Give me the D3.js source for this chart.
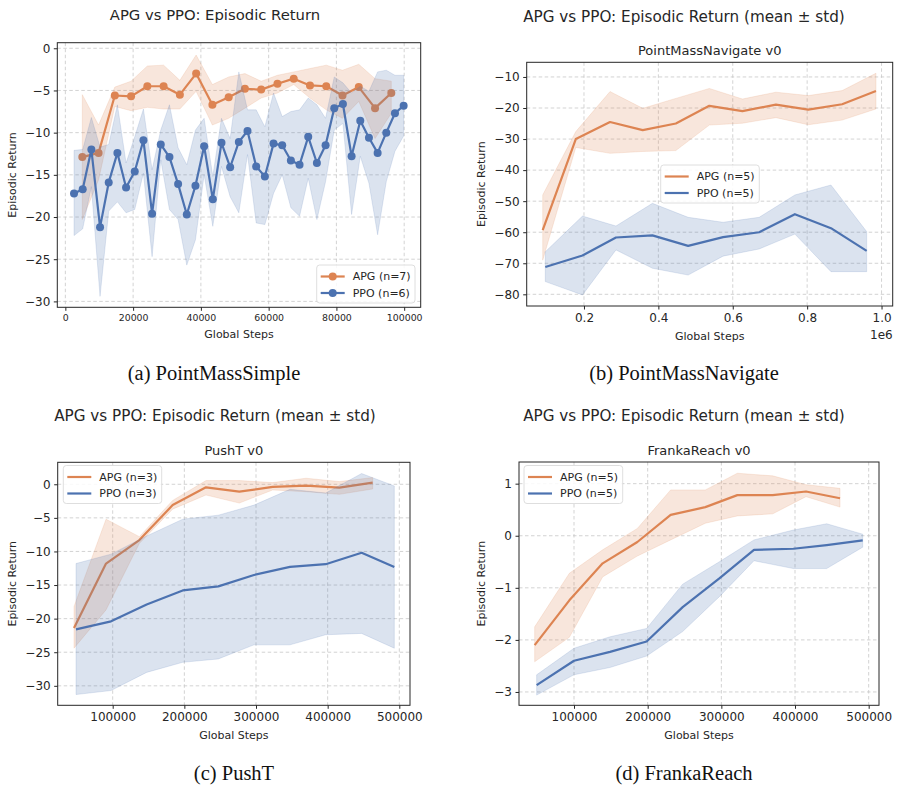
<!DOCTYPE html>
<html>
<head>
<meta charset="utf-8">
<script src="https://cdn.jsdelivr.net/npm/d3@7"></script>
<style>
  body { margin: 0; background: #fff; }
  svg { display: block; }
  text { font-family: "DejaVu Sans", sans-serif; fill: #262626; }
  .caption { font-family: "Liberation Serif", serif; fill: #111; }
</style>
</head>
<body>
<svg id="fig" width="900" height="791"></svg>
<script>
'use strict';

// ---- (a) PointMassSimple ----
var simpleApgX    = [5000, 9800, 14600, 19400, 24200, 29000, 33800, 38600, 43400, 48200, 53000, 57800, 62600, 67400, 72200, 77000, 81800, 86600, 91400, 96200];
var simpleApgMean = [-12.9, -12.4, -5.6, -5.7, -4.5, -4.5, -5.5, -3.0, -6.7, -5.8, -4.8, -4.9, -4.2, -3.6, -4.4, -4.5, -5.6, -4.6, -7.1, -5.3];
var simpleApgHi   = [-5.5, -9.1, -4.6, -3.9, -2.1, -2.0, -3.8, -0.8, -4.3, -3.4, -3.0, -3.9, -3.2, -2.8, -2.4, -2.0, -2.6, -1.9, -3.6, -3.9];
var simpleApgLo   = [-20.3, -15.6, -6.9, -7.4, -7.0, -7.2, -7.2, -5.1, -9.1, -8.3, -7.1, -5.9, -5.3, -4.3, -5.9, -7.3, -8.3, -6.3, -10.7, -7.7];

var simplePpoX    = [2560, 5120, 7680, 10240, 12800, 15360, 17920, 20480, 23040, 25600, 28160, 30720, 33280, 35840, 38400, 40960, 43520, 46080, 48640, 51200,
                     53760, 56320, 58880, 61440, 64000, 66560, 69120, 71680, 74240, 76800, 79360, 81920, 84480, 87040, 89600, 92160, 94720, 97280, 99840];
var simplePpoMean = [-17.2, -16.7, -12.0, -21.2, -15.9, -12.4, -16.5, -14.6, -10.9, -19.6, -11.4, -12.9, -16.1, -19.7, -16.3, -11.6, -17.9, -11.2, -14.1, -11.1,
                     -9.8, -14.0, -15.2, -11.3, -11.5, -13.3, -13.8, -10.5, -13.6, -11.5, -7.1, -6.6, -12.8, -8.6, -10.6, -12.4, -10.0, -7.7, -6.8];
var simplePpoHi   = [-12.1, -12.0, -8.2, -11.7, -11.4, -6.7, -13.6, -10.5, -7.2, -14.4, -9.7, -6.7, -11.8, -13.8, -9.7, -8.3, -15.2, -8.3, -10.7, -2.8,
                     -7.3, -7.3, -9.3, -5.3, -8.1, -7.5, -7.3, -5.9, -6.7, -8.3, -3.4, -4.1, -5.3, -4.5, -5.1, -2.8, -2.6, -3.2, -3.2];
var simplePpoLo   = [-22.2, -21.4, -16.4, -29.4, -19.3, -18.2, -19.5, -19.1, -14.8, -24.7, -13.2, -19.1, -20.3, -25.7, -22.7, -15.0, -21.1, -14.0, -17.6, -19.5,
                     -12.6, -20.7, -20.9, -17.2, -15.0, -18.9, -19.9, -15.4, -20.3, -15.8, -9.7, -8.9, -19.7, -12.8, -16.0, -22.1, -15.8, -12.2, -10.4];

// ---- (b) PointMassNavigate (x in units of 1e6) ----
var navApgX    = [0.089, 0.178, 0.270, 0.358, 0.447, 0.537, 0.626, 0.716, 0.803, 0.894, 0.985];
var navApgMean = [-59.3, -30.0, -24.5, -27.1, -25.0, -19.3, -21.0, -18.9, -20.5, -18.8, -14.5];
var navApgHi   = [-48.0, -27.6, -14.7, -20.1, -16.9, -13.7, -17.1, -14.9, -16.0, -14.4, -8.8];
var navApgLo   = [-69.0, -32.7, -34.6, -34.0, -33.7, -25.5, -24.9, -23.1, -25.4, -23.9, -20.3];

var navPpoX    = [0.096, 0.196, 0.286, 0.384, 0.480, 0.574, 0.671, 0.767, 0.864, 0.960];
var navPpoMean = [-71.2, -67.5, -61.7, -61.0, -64.4, -61.6, -60.0, -54.2, -58.7, -66.0];
var navPpoHi   = [-66.3, -54.8, -58.0, -50.7, -55.2, -56.8, -55.2, -48.0, -44.8, -59.8];
var navPpoLo   = [-75.9, -80.2, -65.7, -71.6, -73.8, -67.7, -65.4, -60.6, -72.7, -72.7];

// ---- (c) PushT ----
var pushApgX    = [46000, 90700, 137200, 183700, 230200, 276700, 323300, 369800, 416300, 462800];
var pushApgMean = [-21.4, -11.8, -8.3, -3.1, -0.45, -1.1, -0.4, -0.2, -0.5, 0.25];
var pushApgHi   = [-18.2, -5.2, -7.8, -2.4, 0.55, 0.55, 0.25, 0.9, 0.4, 1.0];
var pushApgLo   = [-24.4, -18.7, -8.8, -3.7, -1.6, -2.8, -0.85, -1.1, -1.5, -0.7];

var pushPpoX    = [48800, 97700, 147400, 197700, 247400, 297200, 347400, 397200, 447400, 493000];
var pushPpoMean = [-21.6, -20.4, -17.9, -15.8, -15.2, -13.5, -12.3, -11.9, -10.2, -12.3];
var pushPpoHi   = [-11.8, -10.4, -7.7, -5.2, -4.6, -3.1, -0.75, -1.3, 1.6, -0.25];
var pushPpoLo   = [-31.3, -30.7, -28.0, -26.5, -26.0, -23.9, -23.9, -22.4, -22.2, -24.4];

// ---- (d) FrankaReach ----
var frankaApgX    = [46600, 93700, 138900, 186000, 231200, 278300, 321700, 369700, 414900, 461100];
var frankaApgMean = [-2.10, -1.24, -0.53, -0.12, 0.40, 0.55, 0.78, 0.78, 0.85, 0.72];
var frankaApgHi   = [-1.75, -0.72, -0.27, 0.14, 0.88, 0.88, 1.20, 1.15, 0.98, 0.91];
var frankaApgLo   = [-2.42, -1.95, -0.79, -0.39, -0.08, 0.24, 0.38, 0.42, 0.75, 0.55];

var frankaPpoX    = [49300, 100000, 148900, 198600, 247500, 297300, 344300, 397700, 443000, 491900];
var frankaPpoMean = [-2.87, -2.40, -2.23, -2.03, -1.37, -0.82, -0.27, -0.25, -0.18, -0.09];
var frankaPpoHi   = [-2.67, -2.16, -1.94, -1.78, -0.93, -0.50, -0.08, 0.11, 0.23, 0.03];
var frankaPpoLo   = [-3.06, -2.67, -2.53, -2.31, -1.84, -1.17, -0.48, -0.63, -0.63, -0.22];

// tick values
var simpleXTicks = [0, 20000, 40000, 60000, 80000, 100000];
var simpleYTicks = [-30, -25, -20, -15, -10, -5, 0];
var navXTicks    = [0.2, 0.4, 0.6, 0.8, 1.0];
var navYTicks    = [-80, -70, -60, -50, -40, -30, -20, -10];
var pushXTicks   = [100000, 200000, 300000, 400000, 500000];
var pushYTicks   = [-30, -25, -20, -15, -10, -5, 0];
var frankaXTicks = [100000, 200000, 300000, 400000, 500000];
var frankaYTicks = [-3, -2, -1, 0, 1];

var APG_COLOR = "#dd8452";
var PPO_COLOR = "#4c72b0";

function zip(x, m, lo, hi) {
    return x.map((v, i) => ({x: v, m: m[i], lo: lo[i], hi: hi[i]}));
}

var svg = d3.select("#fig");

function drawPanel(p) {
    var b = p.box;
    var x = d3.scaleLinear().domain(p.xDomain).range([b.left, b.right]);
    var y = d3.scaleLinear().domain(p.yDomain).range([b.bottom, b.top]);
    var g = svg.append("g");

    // grid
    g.append("g").selectAll("line").data(p.xTicks).enter().append("line")
        .attr("x1", d => x(d)).attr("x2", d => x(d))
        .attr("y1", b.top).attr("y2", b.bottom)
        .attr("stroke", "#c8c8c8").attr("stroke-width", 0.8).attr("stroke-dasharray", "3.5,2.5");
    g.append("g").selectAll("line").data(p.yTicks).enter().append("line")
        .attr("y1", d => y(d)).attr("y2", d => y(d))
        .attr("x1", b.left).attr("x2", b.right)
        .attr("stroke", "#c8c8c8").attr("stroke-width", 0.8).attr("stroke-dasharray", "3.5,2.5");

    var area = d3.area().x(d => x(d.x)).y0(d => y(d.lo)).y1(d => y(d.hi));
    var line = d3.line().x(d => x(d.x)).y(d => y(d.m));

    p.series.forEach(s => {
        g.append("path").datum(s.data)
            .attr("d", area)
            .attr("fill", s.color).attr("fill-opacity", 0.2)
            .attr("stroke", s.color).attr("stroke-opacity", 0.2).attr("stroke-width", 0.8);
        g.append("path").datum(s.data)
            .attr("d", line)
            .attr("fill", "none").attr("stroke", s.color).attr("stroke-width", 2.2)
            .attr("stroke-linejoin", "round");
        if (p.markers) {
            g.append("g").selectAll("circle").data(s.data).enter().append("circle")
                .attr("cx", d => x(d.x)).attr("cy", d => y(d.m)).attr("r", 4)
                .attr("fill", s.color);
        }
    });

    // frame
    g.append("rect")
        .attr("x", b.left).attr("y", b.top)
        .attr("width", b.right - b.left).attr("height", b.bottom - b.top)
        .attr("fill", "none").attr("stroke", "#262626").attr("stroke-width", 1);

    // axes
    var xAxis = g.append("g").attr("transform", "translate(0," + b.bottom + ")")
        .call(d3.axisBottom(x).tickValues(p.xTicks).tickFormat(p.xFormat).tickSize(3.5).tickPadding(3.5).tickSizeOuter(0));
    xAxis.select(".domain").remove();
    xAxis.selectAll("line").attr("stroke", "#262626");
    xAxis.selectAll("text").attr("font-size", p.xTickSize).attr("font-family", "DejaVu Sans").attr("fill", "#262626");

    var yAxis = g.append("g").attr("transform", "translate(" + b.left + ",0)")
        .call(d3.axisLeft(y).tickValues(p.yTicks).tickFormat(p.yFormat).tickSize(3.5).tickPadding(3.5).tickSizeOuter(0));
    yAxis.select(".domain").remove();
    yAxis.selectAll("line").attr("stroke", "#262626");
    yAxis.selectAll("text").attr("font-size", p.yTickSize).attr("font-family", "DejaVu Sans").attr("fill", "#262626");

    // labels
    g.append("text").attr("x", (b.left + b.right) / 2).attr("y", p.xLabelY)
        .attr("text-anchor", "middle").attr("font-size", 11).text("Global Steps");
    g.append("text").attr("transform", "translate(" + p.yLabelX + "," + ((b.top + b.bottom) / 2) + ") rotate(-90)")
        .attr("text-anchor", "middle").attr("dy", "0.35em").attr("font-size", 11).text("Episodic Return");

    if (p.offsetText) {
        g.append("text").attr("x", b.right).attr("y", p.offsetText.y)
            .attr("text-anchor", "end").attr("font-size", 12).text(p.offsetText.text);
    }

    // titles
    g.append("text").attr("x", p.suptitle.x).attr("y", p.suptitle.y)
        .attr("text-anchor", "middle").attr("font-size", p.suptitle.size).text(p.suptitle.text);
    if (p.subtitle) {
        g.append("text").attr("x", (b.left + b.right) / 2).attr("y", p.subtitle.y)
            .attr("text-anchor", "middle").attr("font-size", 13).text(p.subtitle.text);
    }

    // legend
    var L = p.legend;
    var lg = g.append("g").attr("transform", "translate(" + L.x + "," + L.y + ")");
    lg.append("rect").attr("width", L.w).attr("height", 38).attr("rx", 3)
        .attr("fill", "#fff").attr("fill-opacity", 0.85).attr("stroke", "#d6d6d6").attr("stroke-width", 0.8);
    p.series.forEach((s, i) => {
        var ly = 11.5 + i * 16.5;
        lg.append("line").attr("x1", 4).attr("x2", 28).attr("y1", ly).attr("y2", ly)
            .attr("stroke", s.color).attr("stroke-width", 2.2);
        if (p.markers) {
            lg.append("circle").attr("cx", 16).attr("cy", ly).attr("r", 4).attr("fill", s.color);
        }
        lg.append("text").attr("x", 36).attr("y", ly).attr("dy", "0.35em")
            .attr("font-size", 11).text(s.name);
    });

    // caption
    svg.append("text").attr("class", "caption").attr("x", p.caption.x).attr("y", p.caption.y)
        .attr("text-anchor", "middle").attr("font-size", 20.5).text(p.caption.text);
}

var intFmt = d3.format("d");

drawPanel({
    box: {left: 57.3, right: 420.7, top: 42.7, bottom: 307.3},
    xDomain: [-2375, 104875], yDomain: [-30.7, 0.66],
    xTicks: simpleXTicks, yTicks: simpleYTicks, xFormat: intFmt, yFormat: intFmt,
    xTickSize: 9.4, yTickSize: 12, markers: true,
    xLabelY: 338, yLabelX: 12,
    suptitle: {x: 215, y: 19.5, size: 14.8, text: "APG vs PPO: Episodic Return"},
    legend: {x: 316.7, y: 265, w: 98.3},
    caption: {x: 214, y: 380, text: "(a) PointMassSimple"},
    series: [
        {name: "APG (n=7)", color: APG_COLOR, data: zip(simpleApgX, simpleApgMean, simpleApgLo, simpleApgHi)},
        {name: "PPO (n=6)", color: PPO_COLOR, data: zip(simplePpoX, simplePpoMean, simplePpoLo, simplePpoHi)}
    ]
});

drawPanel({
    box: {left: 526.7, right: 892.7, top: 62.3, bottom: 306},
    xDomain: [0.046, 1.030], yDomain: [-83.76, -5.28],
    xTicks: navXTicks, yTicks: navYTicks, xFormat: d3.format(".1f"), yFormat: intFmt,
    xTickSize: 12, yTickSize: 12, markers: false,
    xLabelY: 340, yLabelX: 481,
    offsetText: {y: 339, text: "1e6"},
    suptitle: {x: 684, y: 22, size: 15.2, text: "APG vs PPO: Episodic Return (mean ± std)"},
    subtitle: {y: 55, text: "PointMassNavigate v0"},
    legend: {x: 660.7, y: 165, w: 98.6},
    caption: {x: 684, y: 380, text: "(b) PointMassNavigate"},
    series: [
        {name: "APG (n=5)", color: APG_COLOR, data: zip(navApgX, navApgMean, navApgLo, navApgHi)},
        {name: "PPO (n=5)", color: PPO_COLOR, data: zip(navPpoX, navPpoMean, navPpoLo, navPpoHi)}
    ]
});

drawPanel({
    box: {left: 57.7, right: 410, top: 462.3, bottom: 705.3},
    xDomain: [23260, 514900], yDomain: [-32.9, 3.27],
    xTicks: pushXTicks, yTicks: pushYTicks, xFormat: intFmt, yFormat: intFmt,
    xTickSize: 12, yTickSize: 12, markers: false,
    xLabelY: 739, yLabelX: 12,
    suptitle: {x: 215, y: 421, size: 15.2, text: "APG vs PPO: Episodic Return (mean ± std)"},
    subtitle: {y: 455, text: "PushT v0"},
    legend: {x: 63.3, y: 465.5, w: 98.4},
    caption: {x: 234, y: 780, text: "(c) PushT"},
    series: [
        {name: "APG (n=3)", color: APG_COLOR, data: zip(pushApgX, pushApgMean, pushApgLo, pushApgHi)},
        {name: "PPO (n=3)", color: PPO_COLOR, data: zip(pushPpoX, pushPpoMean, pushPpoLo, pushPpoHi)}
    ]
});

drawPanel({
    box: {left: 519, right: 879, top: 462, bottom: 705.3},
    xDomain: [25340, 514000], yDomain: [-3.256, 1.416],
    xTicks: frankaXTicks, yTicks: frankaYTicks, xFormat: intFmt, yFormat: intFmt,
    xTickSize: 12, yTickSize: 12, markers: false,
    xLabelY: 739, yLabelX: 481,
    suptitle: {x: 684, y: 421, size: 15.2, text: "APG vs PPO: Episodic Return (mean ± std)"},
    subtitle: {y: 455, text: "FrankaReach v0"},
    legend: {x: 524, y: 465.5, w: 98.7},
    caption: {x: 684, y: 780, text: "(d) FrankaReach"},
    series: [
        {name: "APG (n=5)", color: APG_COLOR, data: zip(frankaApgX, frankaApgMean, frankaApgLo, frankaApgHi)},
        {name: "PPO (n=5)", color: PPO_COLOR, data: zip(frankaPpoX, frankaPpoMean, frankaPpoLo, frankaPpoHi)}
    ]
});
</script>
</body>
</html>
